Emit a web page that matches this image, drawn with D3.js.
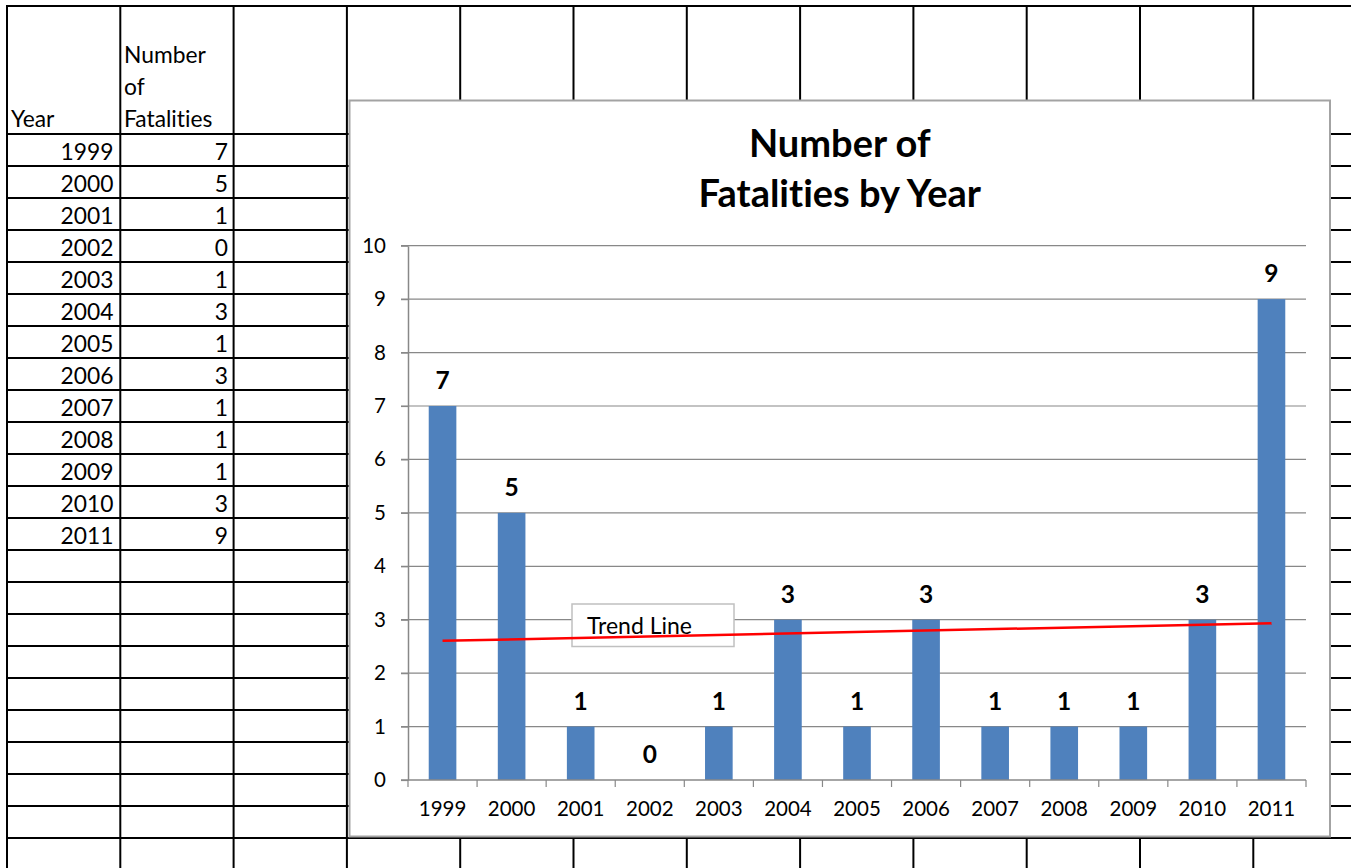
<!DOCTYPE html>
<html>
<head>
<meta charset="utf-8">
<script src="https://cdn.jsdelivr.net/npm/d3@7"></script>
<style>
  html, body { margin: 0; padding: 0; background: #fff; }
  svg { display: block; }
  text { font-family: Lato, "Open Sans", sans-serif; fill: #000;
         font-variant-ligatures: none; font-feature-settings: "liga" 0, "clig" 0; }
</style>
</head>
<body>
<svg id="chart" width="1351" height="868"></svg>
<script>
// ---- data ----
const years = ["1999","2000","2001","2002","2003","2004","2005","2006","2007","2008","2009","2010","2011"];
const fatalities = [7,5,1,0,1,3,1,3,1,1,1,3,9];
const yTicks = [0,1,2,3,4,5,6,7,8,9,10];
const titleLines = ["Number of", "Fatalities by Year"];
const headerYear = ["Year"];
const headerCount = ["Number", "of", "Fatalities"];
const trendLabel = "Trend Line";

const svg = d3.select("#chart");

// ---- spreadsheet grid ----
const colW = 113.3, col0 = 7, nCols = 12;
const rowTop = 6, headerBottom = 134, rowH = 32, nRows = 23;
const colXs = d3.range(nCols).map(i => col0 + i * colW);
const rowYs = [rowTop].concat(d3.range(nRows).map(i => headerBottom + i * rowH));

const grid = svg.append("g");
grid.selectAll("line.v").data(colXs).join("line")
  .attr("x1", d => d).attr("x2", d => d).attr("y1", rowTop - 1).attr("y2", 868)
  .attr("stroke", "#000").attr("stroke-width", 2);
grid.selectAll("line.h").data(rowYs).join("line")
  .attr("x1", col0 - 1).attr("x2", 1351).attr("y1", d => d).attr("y2", d => d)
  .attr("stroke", "#000").attr("stroke-width", 2);

// table header
const tfs = 22.8;
grid.selectAll("text.hy").data(headerYear).join("text")
  .attr("x", 11).attr("y", 127).attr("font-size", tfs).text(d => d);
grid.selectAll("text.hc").data(headerCount).join("text")
  .attr("x", 124).attr("y", (d, i) => 63 + i * 32).attr("font-size", tfs).text(d => d);
// table rows
grid.selectAll("text.yr").data(years).join("text")
  .attr("x", 113.5).attr("y", (d, i) => headerBottom + i * rowH + 25.5)
  .attr("text-anchor", "end").attr("font-size", tfs).text(d => d);
grid.selectAll("text.val").data(fatalities).join("text")
  .attr("x", 228).attr("y", (d, i) => headerBottom + i * rowH + 25.5)
  .attr("text-anchor", "end").attr("font-size", tfs).text(d => d);

// ---- chart frame ----
const frame = {x: 349.5, y: 100.5, w: 980.5, h: 736};
svg.append("rect")
  .attr("x", frame.x).attr("y", frame.y).attr("width", frame.w).attr("height", frame.h)
  .attr("fill", "#fff").attr("stroke", "#a3a3a3").attr("stroke-width", 2);

// ---- scales ----
const plot = {left: 408, right: 1306, top: 245.7, bottom: 780};
const x = d3.scaleBand().domain(years).range([plot.left, plot.right])
  .paddingInner(0.6).paddingOuter(0.3);
const y = d3.scaleLinear().domain([0, 10]).range([plot.bottom, plot.top]);

const gridColor = "#888888";
const axisFs = 20.5;

// gridlines
svg.append("g").selectAll("line").data(yTicks.filter(d => d > 0)).join("line")
  .attr("x1", plot.left - 7).attr("x2", plot.right)
  .attr("y1", d => y(d)).attr("y2", d => y(d))
  .attr("stroke", gridColor).attr("stroke-width", 1.2);

// y axis
const yAxis = svg.append("g").attr("transform", `translate(${plot.left},0)`)
  .call(d3.axisLeft(y).tickValues(yTicks).tickSize(7).tickSizeOuter(0).tickPadding(15));
yAxis.select(".domain").attr("stroke", gridColor).attr("stroke-width", 1.5);
yAxis.selectAll(".tick line").attr("stroke", gridColor).attr("stroke-width", 1.2);
yAxis.selectAll(".tick text").attr("font-family", "Lato, 'Open Sans', sans-serif")
  .attr("font-size", axisFs).attr("fill", "#000");

// bars
svg.append("g").selectAll("rect").data(fatalities).join("rect")
  .attr("x", (d, i) => x(years[i])).attr("width", x.bandwidth())
  .attr("y", d => y(d)).attr("height", d => y(0) - y(d))
  .attr("fill", "#4F81BD");

// x axis
const xAxis = svg.append("g").attr("transform", `translate(0,${plot.bottom})`)
  .call(d3.axisBottom(x).tickSize(0).tickSizeOuter(0).tickPadding(21));
xAxis.select(".domain").remove();
xAxis.selectAll(".tick text").attr("font-family", "Lato, 'Open Sans', sans-serif")
  .attr("font-size", axisFs).attr("fill", "#000");
svg.append("line")
  .attr("x1", plot.left - 7).attr("x2", plot.right).attr("y1", y(0)).attr("y2", y(0))
  .attr("stroke", gridColor).attr("stroke-width", 1.5);
const boundaries = d3.range(years.length + 1).map(i => plot.left + i * x.step());
svg.append("g").selectAll("line").data(boundaries).join("line")
  .attr("x1", d => d).attr("x2", d => d).attr("y1", y(0)).attr("y2", y(0) + 7)
  .attr("stroke", gridColor).attr("stroke-width", 1.2);

// data labels
svg.append("g").selectAll("text").data(fatalities).join("text")
  .attr("x", (d, i) => x(years[i]) + x.bandwidth() / 2)
  .attr("y", d => y(d) - 17)
  .attr("text-anchor", "middle").attr("font-size", 24.5).attr("font-weight", 700)
  .text(d => d);

// trend line label box
svg.append("rect").attr("x", 572).attr("y", 604).attr("width", 162).attr("height", 42.5)
  .attr("fill", "#fff").attr("stroke", "#c0c0c0").attr("stroke-width", 1.5);

// linear trend line (least squares over data)
const n = fatalities.length;
const xs = d3.range(1, n + 1);
const mx = d3.mean(xs), my = d3.mean(fatalities);
const slope = d3.sum(xs, (v, i) => (v - mx) * (fatalities[i] - my)) / d3.sum(xs, v => (v - mx) ** 2);
const icpt = my - slope * mx;
const trendPts = [0, n - 1].map(i => [x(years[i]) + x.bandwidth() / 2, y(icpt + slope * (i + 1))]);
svg.append("path").attr("d", d3.line()(trendPts))
  .attr("stroke", "#FF0000").attr("stroke-width", 2.5).attr("fill", "none");

svg.append("text").attr("x", 587).attr("y", 634).attr("font-size", 23).text(trendLabel);

// title
svg.append("g").selectAll("text").data(titleLines).join("text")
  .attr("x", frame.x + frame.w / 2).attr("y", (d, i) => 157 + i * 50)
  .attr("text-anchor", "middle").attr("font-size", 38).attr("font-weight", 700)
  .text(d => d);
</script>
</body>
</html>
